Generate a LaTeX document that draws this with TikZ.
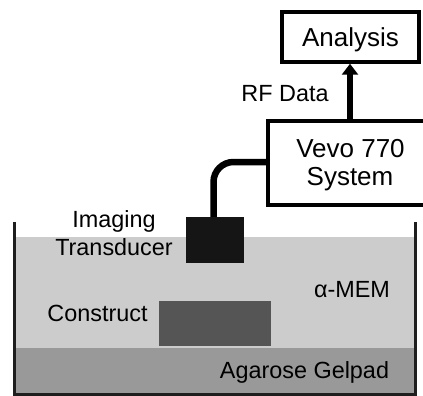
\documentclass[tikz,border=0pt]{standalone}
\usepackage{fontspec}
\setmainfont{Liberation Sans}
\usetikzlibrary{arrows.meta}
\definecolor{liquid}{HTML}{CCCCCC}
\definecolor{gel}{HTML}{999999}
\definecolor{constr}{HTML}{555555}
\definecolor{probe}{HTML}{151515}
\definecolor{wall}{HTML}{1E1E1E}
\begin{document}
\begin{tikzpicture}[x=1pt,y=-1pt,
  boxstyle/.style={draw=black,line width=3.5pt,fill=white,inner sep=0pt,rectangle},
  bigtext/.style={anchor=base,inner sep=0pt,font=\fontsize{26}{30}\selectfont},
  labeltext/.style={anchor=base,inner sep=0pt,font=\fontsize{23.4}{28}\selectfont},
  cable/.style={line width=6.5pt,rounded corners=20pt},
  dataarrow/.style={line width=6pt,-{Triangle[width=16pt,length=11pt]}}
]
\useasboundingbox (0,0) rectangle (423,396);
% container contents
\fill[liquid] (16,237) rectangle (414,348);
\fill[gel] (16,348) rectangle (414,393.5);
\node[fill=constr,inner sep=0pt,minimum width=112pt,minimum height=45pt] (construct) at (215,323.5) {};
\draw[wall,line width=3pt] (14.5,222) -- (14.5,394.5) -- (415.5,394.5) -- (415.5,222);
% boxes
\node[boxstyle,minimum width=137pt,minimum height=50pt] (analysis) at (350.5,37) {};
\node[boxstyle,minimum width=180pt,minimum height=84pt] (vevo) at (358,163) {};
\node[fill=probe,inner sep=0pt,minimum width=58pt,minimum height=46pt] (transducer) at (215,240) {};
% texts
\node[bigtext] (analysistext) at (350.5,46.5) {Analysis};
\node[bigtext] (vevotext1) at (350.5,157) {Vevo 770};
\node[bigtext] (vevotext2) at (350,185) {System};
\node[labeltext] (rfdata) at (285,101.5) {RF Data};
\node[labeltext] (imaging) at (114,227.3) {Imaging};
\node[labeltext] (transducertext) at (114,255) {Transducer};
\node[labeltext] (constructtext) at (97.5,321.7) {Construct};
\node[labeltext] (mem) at (352,297.3) {α-MEM};
\node[labeltext] (gelpad) at (304.5,378.3) {Agarose Gelpad};
% connectors
\coordinate (cablein) at (268,162);
\coordinate (arrowstart) at (350,121);
\coordinate (arrowend) at (350,64);
\draw[cable] (vevo.west |- cablein) -- (213.5,162) -- (transducer.north -| 213.5,0);
\draw[dataarrow] (vevo.north -| arrowstart) -- (analysis.south -| arrowend);
\end{tikzpicture}
\end{document}
